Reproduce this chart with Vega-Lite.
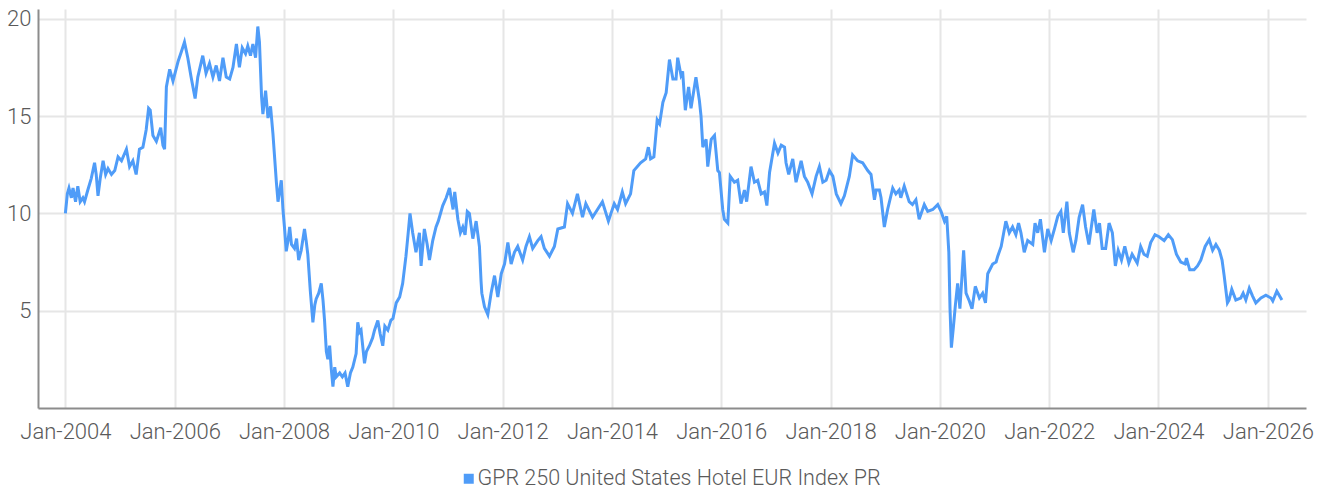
{
"$schema": "https://vega.github.io/schema/vega-lite/v6.json",
"width": 1268, "height": 399,
"autosize": {"type": "none"},
"padding": {"left": 38, "top": 9, "right": 19, "bottom": 85},
"background": "white",
"config": {"view": {"stroke": null}, "font": "Roboto"},
"data": {"values": [
{"date":"2004-01-01","v":10.0},{"date":"2004-01-14","v":11.0},{"date":"2004-01-25","v":11.3},{"date":"2004-02-10","v":10.8},{"date":"2004-02-21","v":11.3},{"date":"2004-03-09","v":10.6},{"date":"2004-03-24","v":11.4},{"date":"2004-04-09","v":10.6},{"date":"2004-04-27","v":10.8},{"date":"2004-05-08","v":10.6},{"date":"2004-05-30","v":11.2},{"date":"2004-06-22","v":11.8},{"date":"2004-07-14","v":12.6},{"date":"2004-07-25","v":12.0},{"date":"2004-08-06","v":10.9},{"date":"2004-08-21","v":11.8},{"date":"2004-09-09","v":12.7},{"date":"2004-09-26","v":12.0},{"date":"2004-10-12","v":12.3},{"date":"2004-11-04","v":12.0},{"date":"2004-11-26","v":12.2},{"date":"2004-12-18","v":12.9},
{"date":"2005-01-10","v":12.7},{"date":"2005-02-12","v":13.3},{"date":"2005-03-05","v":12.4},{"date":"2005-03-27","v":12.7},{"date":"2005-04-18","v":12.0},{"date":"2005-05-10","v":13.3},{"date":"2005-06-02","v":13.4},{"date":"2005-06-24","v":14.3},{"date":"2005-07-10","v":15.4},{"date":"2005-07-21","v":15.3},{"date":"2005-08-08","v":14.0},{"date":"2005-08-31","v":13.7},{"date":"2005-09-29","v":14.4},{"date":"2005-10-14","v":13.5},{"date":"2005-10-25","v":13.3},{"date":"2005-11-06","v":16.5},{"date":"2005-11-28","v":17.4},{"date":"2005-12-20","v":16.8},
{"date":"2006-01-23","v":17.8},{"date":"2006-02-14","v":18.3},{"date":"2006-03-07","v":18.8},{"date":"2006-03-29","v":18.0},{"date":"2006-04-20","v":17.0},{"date":"2006-05-17","v":15.9},{"date":"2006-06-04","v":17.0},{"date":"2006-07-07","v":18.1},{"date":"2006-07-29","v":17.2},{"date":"2006-08-21","v":17.7},{"date":"2006-09-13","v":17.0},{"date":"2006-10-05","v":17.6},{"date":"2006-10-27","v":16.8},{"date":"2006-11-19","v":18.0},{"date":"2006-12-11","v":17.0},
{"date":"2007-01-03","v":16.9},{"date":"2007-01-25","v":17.5},{"date":"2007-02-17","v":18.7},{"date":"2007-03-09","v":17.5},{"date":"2007-03-28","v":18.5},{"date":"2007-04-19","v":18.2},{"date":"2007-05-04","v":18.6},{"date":"2007-05-22","v":18.1},{"date":"2007-06-07","v":18.7},{"date":"2007-06-25","v":18.0},{"date":"2007-07-10","v":19.6},{"date":"2007-07-21","v":18.8},{"date":"2007-08-04","v":16.0},{"date":"2007-08-13","v":15.1},{"date":"2007-08-31","v":16.3},{"date":"2007-09-16","v":14.9},{"date":"2007-10-03","v":15.5},{"date":"2007-10-19","v":14.1},{"date":"2007-11-11","v":11.6},{"date":"2007-11-22","v":10.6},{"date":"2007-12-14","v":11.7},{"date":"2007-12-25","v":10.2},
{"date":"2008-01-05","v":9.2},{"date":"2008-01-16","v":8.05},{"date":"2008-01-28","v":8.6},{"date":"2008-02-08","v":9.3},{"date":"2008-02-20","v":8.4},{"date":"2008-03-11","v":8.2},{"date":"2008-03-25","v":8.7},{"date":"2008-04-08","v":7.6},{"date":"2008-04-25","v":8.1},{"date":"2008-05-17","v":9.2},{"date":"2008-05-28","v":8.6},{"date":"2008-06-08","v":7.9},{"date":"2008-06-25","v":6.0},{"date":"2008-07-12","v":4.4},{"date":"2008-07-25","v":5.3},{"date":"2008-08-03","v":5.6},{"date":"2008-08-20","v":5.9},{"date":"2008-09-06","v":6.4},{"date":"2008-09-18","v":5.5},{"date":"2008-09-28","v":4.5},{"date":"2008-10-10","v":2.9},{"date":"2008-10-20","v":2.5},{"date":"2008-11-01","v":3.2},{"date":"2008-11-12","v":2.0},{"date":"2008-11-23","v":1.1},{"date":"2008-12-05","v":2.1},{"date":"2008-12-15","v":1.6},
{"date":"2009-01-07","v":1.8},{"date":"2009-01-25","v":1.6},{"date":"2009-02-12","v":1.8},{"date":"2009-03-02","v":1.1},{"date":"2009-03-20","v":1.8},{"date":"2009-04-05","v":2.1},{"date":"2009-04-27","v":2.8},{"date":"2009-05-08","v":4.4},{"date":"2009-05-20","v":3.9},{"date":"2009-05-30","v":4.0},{"date":"2009-06-22","v":2.3},{"date":"2009-07-05","v":2.9},{"date":"2009-07-25","v":3.2},{"date":"2009-08-15","v":3.6},{"date":"2009-08-28","v":4.0},{"date":"2009-09-19","v":4.5},{"date":"2009-10-05","v":3.8},{"date":"2009-10-22","v":3.2},{"date":"2009-11-05","v":4.2},{"date":"2009-11-25","v":4.0},{"date":"2009-12-15","v":4.5},{"date":"2009-12-29","v":4.6},
{"date":"2010-01-20","v":5.4},{"date":"2010-02-12","v":5.7},{"date":"2010-03-04","v":6.4},{"date":"2010-03-26","v":7.8},{"date":"2010-04-10","v":9.0},{"date":"2010-04-22","v":10.0},{"date":"2010-05-10","v":9.0},{"date":"2010-06-01","v":8.0},{"date":"2010-06-24","v":9.0},{"date":"2010-07-05","v":7.3},{"date":"2010-07-27","v":9.2},{"date":"2010-08-15","v":8.4},{"date":"2010-08-30","v":7.6},{"date":"2010-09-21","v":8.6},{"date":"2010-10-13","v":9.3},{"date":"2010-10-28","v":9.6},{"date":"2010-11-27","v":10.4},{"date":"2010-12-20","v":10.8},
{"date":"2011-01-11","v":11.3},{"date":"2011-02-04","v":10.2},{"date":"2011-02-15","v":11.1},{"date":"2011-03-08","v":9.7},{"date":"2011-03-25","v":9.0},{"date":"2011-04-10","v":9.3},{"date":"2011-04-25","v":8.9},{"date":"2011-05-10","v":10.1},{"date":"2011-05-24","v":10.0},{"date":"2011-06-16","v":8.7},{"date":"2011-07-08","v":9.6},{"date":"2011-07-30","v":8.3},{"date":"2011-08-10","v":6.5},{"date":"2011-08-15","v":5.9},{"date":"2011-09-02","v":5.2},{"date":"2011-09-24","v":4.8},{"date":"2011-10-16","v":5.9},{"date":"2011-11-08","v":6.8},{"date":"2011-11-30","v":5.7},{"date":"2011-12-23","v":6.9},
{"date":"2012-01-14","v":7.4},{"date":"2012-02-05","v":8.5},{"date":"2012-02-27","v":7.4},{"date":"2012-03-20","v":8.0},{"date":"2012-04-11","v":8.3},{"date":"2012-05-14","v":7.6},{"date":"2012-06-05","v":8.3},{"date":"2012-06-28","v":8.8},{"date":"2012-07-20","v":8.2},{"date":"2012-08-23","v":8.6},{"date":"2012-09-14","v":8.8},{"date":"2012-10-06","v":8.2},{"date":"2012-11-09","v":7.8},{"date":"2012-12-12","v":8.3},
{"date":"2013-01-04","v":9.2},{"date":"2013-02-17","v":9.3},{"date":"2013-03-10","v":10.5},{"date":"2013-04-12","v":10.0},{"date":"2013-05-15","v":11.0},{"date":"2013-06-18","v":9.8},{"date":"2013-07-10","v":10.5},{"date":"2013-08-24","v":9.8},{"date":"2013-09-26","v":10.2},{"date":"2013-10-29","v":10.6},{"date":"2013-12-08","v":9.6},
{"date":"2014-01-16","v":10.5},{"date":"2014-02-07","v":10.2},{"date":"2014-03-11","v":11.1},{"date":"2014-04-02","v":10.5},{"date":"2014-05-05","v":11.0},{"date":"2014-05-27","v":12.2},{"date":"2014-07-11","v":12.6},{"date":"2014-08-14","v":12.8},{"date":"2014-09-01","v":13.4},{"date":"2014-09-16","v":12.8},{"date":"2014-10-08","v":12.9},{"date":"2014-10-30","v":14.8},{"date":"2014-11-15","v":14.6},{"date":"2014-12-07","v":15.7},{"date":"2014-12-29","v":16.2},
{"date":"2015-01-20","v":17.9},{"date":"2015-02-12","v":16.9},{"date":"2015-03-05","v":16.9},{"date":"2015-03-16","v":18.0},{"date":"2015-04-07","v":17.1},{"date":"2015-04-18","v":17.3},{"date":"2015-05-06","v":15.3},{"date":"2015-05-28","v":16.5},{"date":"2015-06-13","v":15.4},{"date":"2015-07-16","v":17.0},{"date":"2015-08-08","v":15.8},{"date":"2015-08-19","v":15.0},{"date":"2015-08-31","v":13.4},{"date":"2015-09-22","v":13.8},{"date":"2015-10-03","v":12.4},{"date":"2015-10-26","v":13.8},{"date":"2015-11-17","v":14.0},{"date":"2015-12-09","v":12.2},{"date":"2015-12-20","v":12.1},
{"date":"2016-01-11","v":10.2},{"date":"2016-01-22","v":9.7},{"date":"2016-02-14","v":9.5},{"date":"2016-03-01","v":11.9},{"date":"2016-03-29","v":11.6},{"date":"2016-04-20","v":11.7},{"date":"2016-05-12","v":10.5},{"date":"2016-06-04","v":11.2},{"date":"2016-06-19","v":10.6},{"date":"2016-07-18","v":12.4},{"date":"2016-08-10","v":11.6},{"date":"2016-09-01","v":11.7},{"date":"2016-09-24","v":11.0},{"date":"2016-10-16","v":11.1},{"date":"2016-11-01","v":10.4},{"date":"2016-11-19","v":12.1},{"date":"2016-12-22","v":13.6},
{"date":"2017-01-14","v":13.1},{"date":"2017-02-05","v":13.5},{"date":"2017-02-27","v":13.4},{"date":"2017-03-09","v":12.6},{"date":"2017-03-27","v":12.0},{"date":"2017-04-23","v":12.8},{"date":"2017-05-15","v":11.6},{"date":"2017-06-18","v":12.7},{"date":"2017-07-10","v":11.9},{"date":"2017-08-01","v":11.6},{"date":"2017-08-30","v":11.0},{"date":"2017-09-26","v":11.9},{"date":"2017-10-18","v":12.4},{"date":"2017-11-10","v":11.6},{"date":"2017-12-02","v":11.7},{"date":"2017-12-24","v":12.2},
{"date":"2018-01-16","v":11.9},{"date":"2018-02-08","v":11.0},{"date":"2018-03-11","v":10.5},{"date":"2018-04-03","v":10.9},{"date":"2018-05-06","v":11.9},{"date":"2018-05-28","v":13.0},{"date":"2018-06-30","v":12.7},{"date":"2018-08-03","v":12.6},{"date":"2018-09-06","v":12.2},{"date":"2018-09-28","v":12.0},{"date":"2018-10-21","v":10.7},{"date":"2018-11-01","v":11.2},{"date":"2018-11-23","v":11.2},{"date":"2018-12-04","v":10.8},{"date":"2018-12-26","v":9.3},
{"date":"2019-01-17","v":10.2},{"date":"2019-02-20","v":11.3},{"date":"2019-03-13","v":11.0},{"date":"2019-04-04","v":11.2},{"date":"2019-04-15","v":10.8},{"date":"2019-05-08","v":11.4},{"date":"2019-06-10","v":10.6},{"date":"2019-07-02","v":10.45},{"date":"2019-07-25","v":10.7},{"date":"2019-08-16","v":9.7},{"date":"2019-09-19","v":10.45},{"date":"2019-10-12","v":10.1},{"date":"2019-11-15","v":10.2},{"date":"2019-12-18","v":10.45},
{"date":"2020-01-09","v":10.1},{"date":"2020-02-01","v":9.6},{"date":"2020-02-16","v":9.85},{"date":"2020-03-01","v":8.0},{"date":"2020-03-09","v":5.1},{"date":"2020-03-18","v":3.1},{"date":"2020-04-01","v":4.2},{"date":"2020-04-14","v":5.3},{"date":"2020-04-29","v":6.4},{"date":"2020-05-14","v":5.1},{"date":"2020-06-08","v":8.1},{"date":"2020-06-24","v":5.9},{"date":"2020-07-16","v":5.5},{"date":"2020-08-03","v":5.1},{"date":"2020-08-25","v":6.25},{"date":"2020-09-21","v":5.65},{"date":"2020-10-13","v":5.9},{"date":"2020-11-01","v":5.4},{"date":"2020-11-16","v":6.9},{"date":"2020-12-19","v":7.4},
{"date":"2021-01-11","v":7.5},{"date":"2021-01-22","v":7.8},{"date":"2021-02-14","v":8.3},{"date":"2021-03-17","v":9.6},{"date":"2021-04-09","v":9.0},{"date":"2021-05-01","v":9.3},{"date":"2021-05-23","v":8.9},{"date":"2021-06-10","v":9.5},{"date":"2021-06-26","v":9.0},{"date":"2021-07-18","v":8.0},{"date":"2021-08-10","v":8.6},{"date":"2021-09-13","v":8.4},{"date":"2021-09-28","v":9.5},{"date":"2021-10-16","v":9.0},{"date":"2021-11-03","v":9.7},{"date":"2021-11-30","v":8.0},{"date":"2021-12-22","v":9.2},
{"date":"2022-01-14","v":8.6},{"date":"2022-02-05","v":9.2},{"date":"2022-02-27","v":9.85},{"date":"2022-03-20","v":10.1},{"date":"2022-04-05","v":9.0},{"date":"2022-04-29","v":10.6},{"date":"2022-05-15","v":9.0},{"date":"2022-06-10","v":8.0},{"date":"2022-06-28","v":8.6},{"date":"2022-07-20","v":9.8},{"date":"2022-08-12","v":10.45},{"date":"2022-09-01","v":9.3},{"date":"2022-09-23","v":8.4},{"date":"2022-10-26","v":10.2},{"date":"2022-11-17","v":9.0},{"date":"2022-12-03","v":9.5},{"date":"2022-12-21","v":8.2},
{"date":"2023-01-13","v":8.2},{"date":"2023-02-05","v":9.5},{"date":"2023-02-27","v":9.0},{"date":"2023-03-19","v":7.3},{"date":"2023-04-07","v":8.1},{"date":"2023-04-29","v":7.6},{"date":"2023-05-21","v":8.3},{"date":"2023-06-17","v":7.45},{"date":"2023-07-09","v":7.9},{"date":"2023-08-12","v":7.45},{"date":"2023-09-04","v":8.3},{"date":"2023-09-26","v":7.9},{"date":"2023-10-18","v":7.8},{"date":"2023-11-10","v":8.5},{"date":"2023-12-09","v":8.9},
{"date":"2024-01-05","v":8.8},{"date":"2024-02-08","v":8.6},{"date":"2024-03-07","v":8.9},{"date":"2024-04-03","v":8.65},{"date":"2024-04-30","v":7.9},{"date":"2024-05-29","v":7.5},{"date":"2024-06-27","v":7.4},{"date":"2024-07-06","v":7.7},{"date":"2024-07-28","v":7.1},{"date":"2024-08-26","v":7.1},{"date":"2024-09-18","v":7.3},{"date":"2024-10-10","v":7.6},{"date":"2024-11-08","v":8.3},{"date":"2024-12-05","v":8.65},{"date":"2024-12-28","v":8.1},
{"date":"2025-01-19","v":8.4},{"date":"2025-02-11","v":8.1},{"date":"2025-03-01","v":7.6},{"date":"2025-03-15","v":6.8},{"date":"2025-03-26","v":6.1},{"date":"2025-04-06","v":5.4},{"date":"2025-04-17","v":5.55},{"date":"2025-05-05","v":6.1},{"date":"2025-06-01","v":5.55},{"date":"2025-07-04","v":5.65},{"date":"2025-07-20","v":5.9},{"date":"2025-08-07","v":5.55},{"date":"2025-08-30","v":6.15},{"date":"2025-09-21","v":5.75},{"date":"2025-10-13","v":5.4},{"date":"2025-11-16","v":5.65},{"date":"2025-12-19","v":5.8},
{"date":"2026-01-22","v":5.65},{"date":"2026-02-03","v":5.5},{"date":"2026-03-02","v":6.0},{"date":"2026-04-05","v":5.55}
]},
"mark": {"type": "line", "strokeWidth": 3},
"encoding": {
  "x": {"field": "date", "type": "temporal",
    "scale": {"type": "utc", "domain": [{"year": 2003, "month": 7, "date": 2, "utc": true}, {"year": 2026, "month": 9, "date": 13, "utc": true}]},
    "axis": {"title": null, "format": "%b-%Y",
      "values": [{"year":2004,"month":1,"date":1,"utc":true},{"year":2006,"month":1,"date":1,"utc":true},{"year":2008,"month":1,"date":1,"utc":true},{"year":2010,"month":1,"date":1,"utc":true},{"year":2012,"month":1,"date":1,"utc":true},{"year":2014,"month":1,"date":1,"utc":true},{"year":2016,"month":1,"date":1,"utc":true},{"year":2018,"month":1,"date":1,"utc":true},{"year":2020,"month":1,"date":1,"utc":true},{"year":2022,"month":1,"date":1,"utc":true},{"year":2024,"month":1,"date":1,"utc":true},{"year":2026,"month":1,"date":1,"utc":true}],
      "grid": true, "gridColor": "#e6e6e6", "gridWidth": 2,
      "ticks": false, "tickSize": 0,
      "domainColor": "#8c8c8c", "domainWidth": 2,
      "labelFont": "Roboto", "labelFontSize": 22, "labelFontWeight": 300, "labelColor": "#5a5a5a", "labelPadding": 13}},
  "y": {"field": "v", "type": "quantitative",
    "scale": {"domain": [0, 20.5], "nice": false, "zero": false},
    "axis": {"title": null, "values": [5, 10, 15, 20],
      "grid": true, "gridColor": "#e6e6e6", "gridWidth": 2,
      "ticks": false, "tickSize": 0,
      "domainColor": "#8c8c8c", "domainWidth": 2,
      "labelFont": "Roboto", "labelFontSize": 22, "labelFontWeight": 300, "labelColor": "#5a5a5a", "labelPadding": 7}},
  "color": {"datum": "GPR 250 United States Hotel EUR Index PR",
    "scale": {"range": ["#4f9cf8"]},
    "legend": {"title": null, "orient": "none", "legendX": 420, "legendY": 459, "direction": "horizontal",
      "symbolType": "square", "symbolSize": 100, "labelLimit": 0,
      "labelFont": "Roboto", "labelFontSize": 21.5, "labelFontWeight": 300, "labelColor": "#5a5a5a", "labelOffset": -2,
      "encode": {"symbols": {"update": {"fill": {"value": "#4f9cf8"}, "stroke": {"value": "#4f9cf8"}, "strokeWidth": {"value": 0}}}}}}
}
}
